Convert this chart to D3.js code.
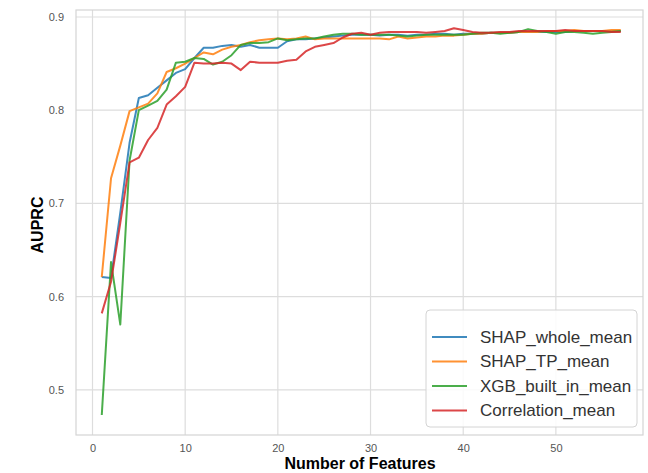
<!DOCTYPE html>
<html>
<head>
<meta charset="utf-8">
<script src="https://cdn.jsdelivr.net/npm/d3@7"></script>
<style>
    body { margin: 0; background: #fff; }
    svg { display: block; font-family: "Liberation Sans", Arial, sans-serif; }
</style>
</head>
<body>
<div id="line_chart"></div>
<script>
/* AUPRC vs number of features */

const seriesNames = ["SHAP_whole_mean", "SHAP_TP_mean", "XGB_built_in_mean", "Correlation_mean"];

const numFeatures = d3.range(1, 58); // 1 .. 57

const shapWhole = [0.621, 0.620, 0.690, 0.765, 0.813, 0.816, 0.824, 0.832, 0.840, 0.844,
    0.856, 0.867, 0.867, 0.869, 0.870, 0.868, 0.870, 0.867, 0.867, 0.867,
    0.874, 0.876, 0.876, 0.877, 0.878, 0.879, 0.880, 0.881, 0.881, 0.881,
    0.880, 0.881, 0.881, 0.880, 0.881, 0.881, 0.882, 0.882, 0.881, 0.882,
    0.882, 0.882, 0.883, 0.883, 0.883, 0.884, 0.884, 0.884, 0.884, 0.884,
    0.884, 0.885, 0.885, 0.885, 0.885, 0.885, 0.885];

const shapTP = [0.621, 0.727, 0.762, 0.799, 0.803, 0.807, 0.818, 0.841, 0.845, 0.850,
    0.856, 0.862, 0.860, 0.865, 0.868, 0.870, 0.873, 0.875, 0.876, 0.877,
    0.876, 0.877, 0.879, 0.876, 0.877, 0.877, 0.877, 0.877, 0.877, 0.877,
    0.877, 0.876, 0.879, 0.877, 0.878, 0.879, 0.879, 0.880, 0.880, 0.881,
    0.882, 0.882, 0.883, 0.883, 0.883, 0.884, 0.884, 0.884, 0.885, 0.885,
    0.885, 0.886, 0.885, 0.885, 0.885, 0.886, 0.886];

const xgbBuiltIn = [0.473, 0.637, 0.570, 0.746, 0.800, 0.805, 0.810, 0.822, 0.851, 0.852,
    0.856, 0.855, 0.849, 0.852, 0.859, 0.870, 0.872, 0.872, 0.873, 0.877,
    0.875, 0.876, 0.877, 0.877, 0.879, 0.881, 0.882, 0.882, 0.881, 0.881,
    0.881, 0.881, 0.880, 0.879, 0.880, 0.881, 0.881, 0.881, 0.881, 0.881,
    0.882, 0.883, 0.883, 0.882, 0.883, 0.884, 0.887, 0.885, 0.884, 0.882,
    0.884, 0.884, 0.883, 0.882, 0.883, 0.884, 0.885];

const correlation = [0.582, 0.616, 0.679, 0.744, 0.749, 0.768, 0.781, 0.806, 0.815, 0.825,
    0.851, 0.850, 0.850, 0.851, 0.850, 0.843, 0.852, 0.851, 0.851, 0.851,
    0.853, 0.854, 0.863, 0.868, 0.870, 0.872, 0.878, 0.882, 0.883, 0.881,
    0.883, 0.884, 0.884, 0.884, 0.884, 0.883, 0.884, 0.885, 0.888, 0.886,
    0.884, 0.883, 0.883, 0.884, 0.884, 0.885, 0.885, 0.885, 0.885, 0.885,
    0.886, 0.885, 0.885, 0.885, 0.885, 0.884, 0.884];

const xTicks = [0, 10, 20, 30, 40, 50];
const yTicks = [0.5, 0.6, 0.7, 0.8, 0.9];

const colors = ["#1f77b4", "#ff7f0e", "#2ca02c", "#d62728"];

const allSeries = [shapWhole, shapTP, xgbBuiltIn, correlation].map((vals, i) => ({
    name: seriesNames[i],
    color: colors[i],
    values: numFeatures.map((n, j) => ({ n: n, v: vals[j] }))
}));

const width = 648,
      height = 473,
      margin = ({ top: 10, right: 5, bottom: 38, left: 76 });

let svg = d3.select("#line_chart")
    .append("svg")
    .attr("width", width)
    .attr("height", height);

let x = d3.scaleLinear()
    .domain([-1.78, 59.4])
    .range([margin.left, width - margin.right]);

let y = d3.scaleLinear()
    .domain([0.4515, 0.9075])
    .range([height - margin.bottom, margin.top]);

// grid lines
svg.append("g")
    .selectAll("line")
    .data(xTicks)
    .join("line")
    .attr("x1", d => x(d)).attr("x2", d => x(d))
    .attr("y1", y.range()[0]).attr("y2", y.range()[1])
    .attr("stroke", "#dddddd")
    .attr("stroke-width", 1.2);

svg.append("g")
    .selectAll("line")
    .data(yTicks)
    .join("line")
    .attr("x1", x.range()[0]).attr("x2", x.range()[1])
    .attr("y1", d => y(d)).attr("y2", d => y(d))
    .attr("stroke", "#dddddd")
    .attr("stroke-width", 1.2);

// frame
svg.append("rect")
    .attr("x", margin.left)
    .attr("y", margin.top)
    .attr("width", width - margin.right - margin.left)
    .attr("height", height - margin.bottom - margin.top)
    .attr("fill", "none")
    .attr("stroke", "#d4d4d4")
    .attr("stroke-width", 1.2);

// axes (tick labels only)
let xAxis = svg.append("g")
    .attr("transform", `translate(0,${height - margin.bottom})`)
    .call(d3.axisBottom(x).tickValues(xTicks).tickFormat(d3.format("d")).tickSize(0).tickPadding(9));

let yAxis = svg.append("g")
    .attr("transform", `translate(${margin.left},0)`)
    .call(d3.axisLeft(y).tickValues(yTicks).tickFormat(d3.format(".1f")).tickSize(0).tickPadding(12));

[xAxis, yAxis].forEach(a => {
    a.select(".domain").remove();
    a.selectAll(".tick text")
        .style("font-size", "11px")
        .style("font-family", "'Liberation Sans', Arial, sans-serif")
        .attr("fill", "#555");
});

// lines
let line = d3.line()
    .x(d => x(d.n))
    .y(d => y(d.v));

svg.append("g")
    .selectAll("path")
    .data(allSeries)
    .join("path")
    .attr("d", d => line(d.values))
    .attr("fill", "none")
    .attr("stroke", d => d.color)
    .attr("stroke-opacity", 0.85)
    .attr("stroke-width", 2)
    .attr("stroke-linejoin", "round");

// legend
let legend = svg.append("g")
    .attr("transform", "translate(426,310)");

legend.append("rect")
    .attr("width", 211)
    .attr("height", 117)
    .attr("rx", 4)
    .attr("fill", "#fff")
    .attr("fill-opacity", 0.85)
    .attr("stroke", "#d4d4d4");

let item = legend.selectAll(".item")
    .data(allSeries)
    .join("g")
    .attr("class", "item")
    .attr("transform", (d, i) => `translate(0,${27 + i * 24.5})`);

item.append("line")
    .attr("x1", 6).attr("x2", 41)
    .attr("stroke", d => d.color)
    .attr("stroke-opacity", 0.85)
    .attr("stroke-width", 2);

item.append("text")
    .attr("x", 54)
    .attr("dy", "0.35em")
    .style("font-size", "17px")
    .attr("fill", "#333")
    .text(d => d.name);

// axis titles
svg.append("text")
    .attr("text-anchor", "middle")
    .attr("x", 360)
    .attr("y", 469)
    .style("font-size", "16px")
    .style("font-weight", "bold")
    .text("Number of Features");

svg.append("text")
    .attr("text-anchor", "middle")
    .attr("transform", "translate(43,225) rotate(-90)")
    .style("font-size", "16px")
    .style("font-weight", "bold")
    .text("AUPRC");
</script>
</body>
</html>
